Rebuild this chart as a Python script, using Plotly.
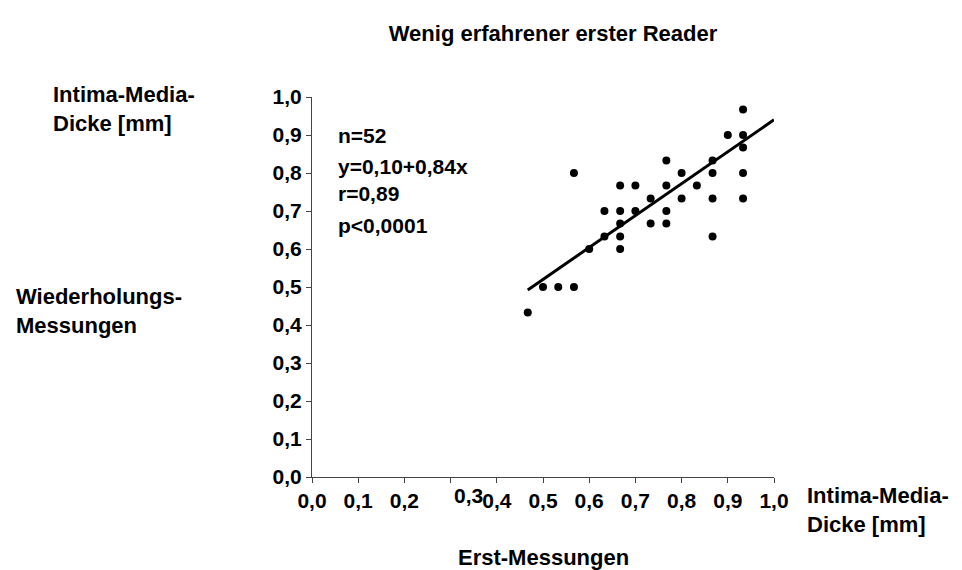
import plotly.graph_objects as go

# Data
x_first = [0.467, 0.500, 0.533, 0.567, 0.567, 0.600, 0.633, 0.633, 0.667, 0.667,
           0.667, 0.667, 0.667, 0.700, 0.700, 0.733, 0.733, 0.767, 0.767, 0.767,
           0.767, 0.800, 0.800, 0.833, 0.867, 0.867, 0.867, 0.867, 0.900, 0.933,
           0.933, 0.933, 0.933, 0.933]
y_repeat = [0.433, 0.500, 0.500, 0.500, 0.800, 0.600, 0.633, 0.700, 0.767, 0.700,
            0.667, 0.633, 0.600, 0.767, 0.700, 0.733, 0.667, 0.833, 0.767, 0.700,
            0.667, 0.800, 0.733, 0.767, 0.833, 0.800, 0.733, 0.633, 0.900, 0.967,
            0.900, 0.867, 0.800, 0.733]
intercept = 0.10
slope = 0.84
line_x_end = 1.0

tick_vals = [0.0, 0.1, 0.2, 0.3, 0.4, 0.5, 0.6, 0.7, 0.8, 0.9, 1.0]
tick_text = ["0,0", "0,1", "0,2", "0,3", "0,4", "0,5", "0,6", "0,7", "0,8", "0,9", "1,0"]
x_tick_text = [t if t != "0,3" else "" for t in tick_text]

stats_lines = ["n=52", "y=0,10+0,84x", "r=0,89", "p<0,0001"]
title_text = "Wenig erfahrener erster Reader"

FONT = "Arial, 'Liberation Sans', sans-serif"
FS_TICK = 21
FS_TXT = 22
FS_STAT = 21

line_x = [min(x_first), line_x_end]
line_y = [intercept + slope * v for v in line_x]

fig = go.Figure()
fig.add_trace(go.Scatter(x=x_first, y=y_repeat, mode="markers",
                         marker=dict(color="black", size=8), showlegend=False))
fig.add_trace(go.Scatter(x=line_x, y=line_y, mode="lines",
                         line=dict(color="black", width=3), showlegend=False))

tickfont = dict(family=FONT, size=FS_TICK, color="black", weight="bold")
axis_common = dict(range=[0, 1], showgrid=False, zeroline=False, showline=True,
                   linecolor="#444444", linewidth=1, ticks="outside", ticklen=5,
                   tickcolor="#444444", tickfont=tickfont, tickvals=tick_vals)

fig.update_xaxes(**axis_common, ticktext=x_tick_text)
fig.update_yaxes(**axis_common, ticktext=tick_text)

def bfont(size):
    return dict(family=FONT, size=size, color="black", weight="bold")

L, R, T, B = 304, 196, 89, 101
W, H = 962, 570
pw, ph = W - L - R, H - T - B

def px2x(px):
    return (px - L) / pw

def py2y(py):
    return (H - B - py) / ph

ann = []
# displaced 0,3 x tick label
ann.append(dict(x=0.338, y=0, xref="x", yref="paper", text="0,3", showarrow=False,
                font=bfont(FS_TICK), yanchor="middle", yshift=-18))
# stats text
stat_y = [0.9, 0.818, 0.746, 0.662]
for t, yy in zip(stats_lines, stat_y):
    ann.append(dict(x=0.051, y=yy, xref="x", yref="y", text=t, showarrow=False,
                    xanchor="left", yanchor="middle", font=bfont(FS_STAT)))
# axis names
ann.append(dict(x=px2x(43), y=py2y(101), xref="paper", yref="paper",
                text="Intima-Media-<br>Dicke [mm]", showarrow=False,
                xanchor="left", yanchor="middle", align="left", font=bfont(FS_TXT)))
ann.append(dict(x=px2x(6), y=py2y(303), xref="paper", yref="paper",
                text="Wiederholungs-<br>Messungen", showarrow=False,
                xanchor="left", yanchor="middle", align="left", font=bfont(FS_TXT)))
ann.append(dict(x=px2x(797), y=py2y(502), xref="paper", yref="paper",
                text="Intima-Media-<br>Dicke [mm]", showarrow=False,
                xanchor="left", yanchor="middle", align="left", font=bfont(FS_TXT)))
ann.append(dict(x=0.5, y=py2y(549), xref="paper", yref="paper",
                text="Erst-Messungen", showarrow=False,
                xanchor="center", yanchor="middle", font=bfont(FS_TXT)))

fig.update_layout(
    width=W, height=H,
    margin=dict(l=L, r=R, t=T, b=B),
    paper_bgcolor="white", plot_bgcolor="white",
    font=dict(family=FONT, size=FS_TXT, color="black"),
    title=dict(text=title_text, x=545 / W, xanchor="center",
               y=1 - 25 / H, yanchor="middle", font=bfont(FS_TXT)),
    annotations=ann,
)

fig.write_html("out.html")
